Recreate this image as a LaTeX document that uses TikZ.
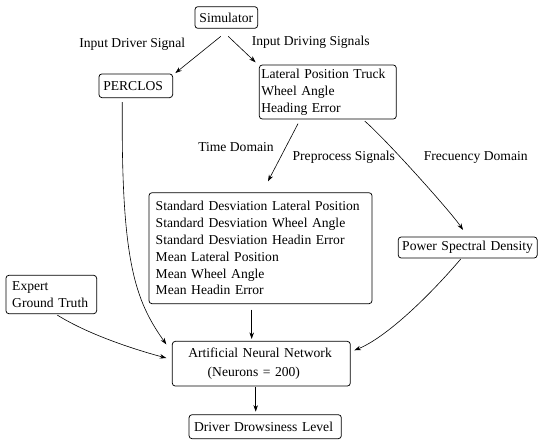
\documentclass[tikz,border=0pt]{standalone}
\usepackage{fontspec}
\setmainfont{Liberation Serif}
\usetikzlibrary{arrows.meta}
\begin{document}
\begin{tikzpicture}[x=1pt,y=-1pt,
  box/.style={draw, rounded corners=3pt, line width=0.75pt, inner ysep=0pt,
    font=\fontsize{13.6}{16.8}\selectfont},
  lbl/.style={inner sep=0pt, font=\fontsize{13.6}{16}\selectfont},
  arr/.style={-{Stealth[length=6.5pt,width=4.5pt]}, line width=0.6pt}]
\useasboundingbox (0,0) rectangle (538,444);

\node[box, inner xsep=0pt, minimum width=62.7pt, minimum height=21.7pt] (sim) at (226.3,17.5) {Simulator};
\node[box, inner xsep=4.3pt, text width=65.1pt, align=left, minimum height=23.7pt] (perclos) at (135.8,85.8) {PERCLOS};
\node[box, inner xsep=2pt, text width=133pt, align=left, minimum height=54pt] (lat) at (327.8,92) {Lateral Position Truck\\Wheel Angle\\Heading Error};
\node[box, inner xsep=6.7pt, text width=209.6pt, align=left, minimum height=111pt] (feat) at (260.5,248.2) {Standard Desviation Lateral Position\\Standard Desviation Wheel Angle\\Standard Desviation Headin Error\\Mean Lateral Position\\Mean Wheel Angle\\Mean Headin Error};
\node[box, inner xsep=4pt, text width=131pt, align=left, minimum height=21pt] (psd) at (467.7,247.5) {Power Spectral Density};
\node[box, inner xsep=6.3pt, text width=78.1pt, align=left, minimum height=38.4pt] (exp) at (51.3,294.5) {Expert\\Ground Truth};
\node[box, inner xsep=0pt, text width=178pt, align=left, minimum height=44.7pt, font=\fontsize{13.6}{19.3}\selectfont] (ann) at (261.3,363.7) {\hspace*{16pt}Artificial Neural Network\\\hspace*{35.4pt}(Neurons = 200)};
\node[box, inner xsep=5pt, text width=142.3pt, align=left, minimum height=24pt] (ddl) at (265.2,426.7) {Driver Drowsiness Level};

\node[lbl] (l1) at (132.2,44.3) {Input Driver Signal};
\node[lbl] (l2) at (310.7,42.7) {Input Driving Signals};
\node[lbl] (l3) at (236,146.7) {Time Domain};
\node[lbl] (l4) at (343.8,157.3) {Preprocess Signals};
\node[lbl] (l5) at (475.7,157.3) {Frecuency Domain};

\draw[arr] ([shift={(-5.6,7.7)}]sim.south) -- ([shift={(2.3,-0.5)}]perclos.north east);
\draw[arr] ([shift={(2,7.7)}]sim.south) -- ([shift={(-3.3,-2.3)}]lat.north west);
\draw[arr] ([shift={(-29.8,4.3)}]lat.south) -- ([shift={(7.5,-11)}]feat.north);
\draw[arr] ([shift={(36.9,1.7)}]lat.south) .. controls +(20,17) and +(-12,-18) .. ([shift={(-4.7,-6.7)}]psd.north);
\draw[arr] ([shift={(-13.5,4)}]perclos.south) .. controls +(-1.3,158.3) and +(-31.7,-44.7) .. ([shift={(-5.6,3.4)}]ann.north west);
\draw[arr] ([shift={(6,1)}]exp.south) .. controls +(32,20) and +(-30,-8) .. ([shift={(-5.6,-5.7)}]ann.west);
\draw[arr] ([shift={(-8.8,5.6)}]feat.south) -- ([shift={(-9.6,-2)}]ann.north);
\draw[arr] ([shift={(-7,0.7)}]psd.south) .. controls +(-35,41) and +(30,-12) .. ([shift={(3.7,-13.4)}]ann.east);
\draw[arr] ([shift={(-5.6,1)}]ann.south) -- ([shift={(-9.5,-2.7)}]ddl.north);
\end{tikzpicture}
\end{document}
